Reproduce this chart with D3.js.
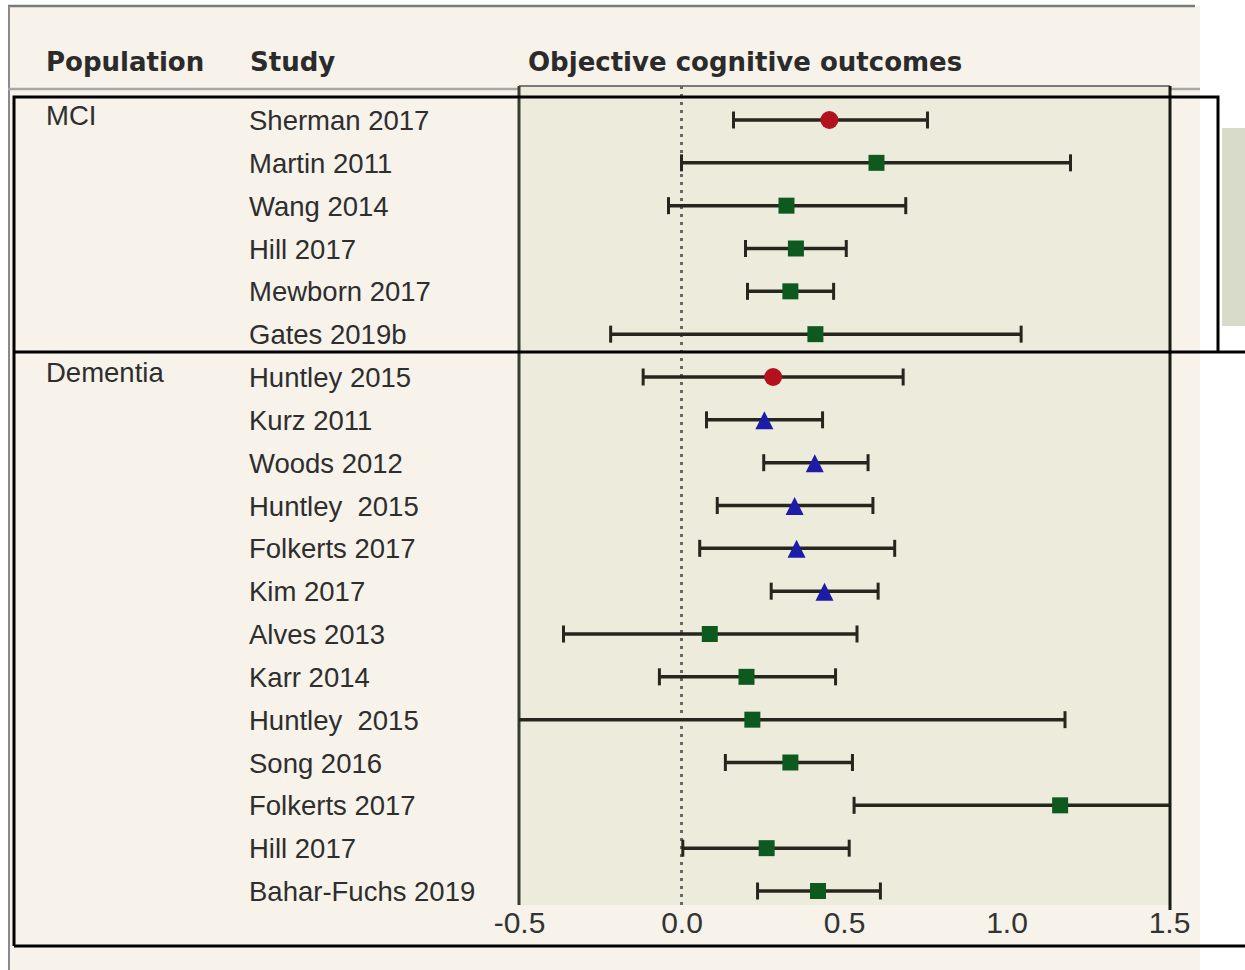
<!DOCTYPE html>
<html>
<head>
<meta charset="utf-8">
<script src="https://cdn.jsdelivr.net/npm/d3@7"></script>
<style>
  body { margin: 0; background: #ffffff; }
  svg { display: block; }
</style>
</head>
<body>
<svg id="chart" width="1245" height="970"></svg>
<script>
// Forest plot data
var populations = ["MCI", "Dementia"];
var populationOf = ["MCI", "MCI", "MCI", "MCI", "MCI", "MCI",
    "Dementia", "Dementia", "Dementia", "Dementia", "Dementia", "Dementia", "Dementia",
    "Dementia", "Dementia", "Dementia", "Dementia", "Dementia", "Dementia"];
var studies = ["Sherman 2017", "Martin 2011", "Wang 2014", "Hill 2017", "Mewborn 2017", "Gates 2019b",
    "Huntley 2015", "Kurz 2011", "Woods 2012", "Huntley  2015", "Folkerts 2017", "Kim 2017",
    "Alves 2013", "Karr 2014", "Huntley  2015", "Song 2016", "Folkerts 2017", "Hill 2017", "Bahar-Fuchs 2019"];
var effect = [0.455, 0.60, 0.323, 0.352, 0.335, 0.412,
    0.282, 0.255, 0.41, 0.348, 0.354, 0.44,
    0.087, 0.20, 0.218, 0.335, 1.165, 0.262, 0.42];
var lower = [0.16, 0.0, -0.04, 0.197, 0.203, -0.218,
    -0.118, 0.077, 0.253, 0.11, 0.056, 0.276,
    -0.363, -0.068, -0.55, 0.135, 0.531, 0.004, 0.234];
var upper = [0.757, 1.197, 0.69, 0.507, 0.468, 1.045,
    0.682, 0.434, 0.574, 0.589, 0.656, 0.605,
    0.54, 0.474, 1.18, 0.526, 1.55, 0.516, 0.612];
// marker type for each study
var markers = ["circle", "square", "square", "square", "square", "square",
    "circle", "triangle", "triangle", "triangle", "triangle", "triangle",
    "square", "square", "square", "square", "square", "square", "square"];
var xTicks = [-0.5, 0.0, 0.5, 1.0, 1.5];
var headers = ["Population", "Study", "Objective cognitive outcomes"];

var svg = d3.select("#chart");

var panelLeft = 519, panelRight = 1170, panelTop = 86, panelBottom = 905;

var xScale = d3.scaleLinear()
    .domain([xTicks[0], xTicks[xTicks.length - 1]])
    .range([panelLeft, panelRight - 1]);

var yScale = d3.scalePoint()
    .domain(d3.range(studies.length))
    .range([120, 891]);

var markerColor = { circle: "#b3121c", square: "#0e5a1e", triangle: "#1c1ca8" };

// page background (screenshot-like frame)
svg.append("rect")
    .attr("x", 8).attr("y", 6).attr("width", 1192).attr("height", 964)
    .attr("fill", "#f7f3ea");
svg.append("line")
    .attr("x1", 8).attr("x2", 1195).attr("y1", 6).attr("y2", 6)
    .attr("stroke", "#7a7a7a").attr("stroke-width", 2.5);
svg.append("line")
    .attr("x1", 9).attr("x2", 9).attr("y1", 6).attr("y2", 970)
    .attr("stroke", "#8a8a8a").attr("stroke-width", 2);
svg.append("line")
    .attr("x1", 8).attr("x2", 1200).attr("y1", 89).attr("y2", 89)
    .attr("stroke", "#a8a8a4").attr("stroke-width", 2.5);

// plot panel
svg.append("rect")
    .attr("x", panelLeft).attr("y", panelTop)
    .attr("width", panelRight - panelLeft).attr("height", panelBottom - panelTop)
    .attr("fill", "#edebdc");
svg.append("line")
    .attr("x1", panelLeft).attr("x2", panelRight).attr("y1", panelTop).attr("y2", panelTop)
    .attr("stroke", "#555").attr("stroke-width", 1.5);
svg.append("line")
    .attr("x1", panelLeft).attr("x2", panelLeft).attr("y1", panelTop).attr("y2", panelBottom)
    .attr("stroke", "#3a3a34").attr("stroke-width", 3);
svg.append("line")
    .attr("x1", panelRight).attr("x2", panelRight).attr("y1", panelTop).attr("y2", panelBottom + 5)
    .attr("stroke", "#1a1a14").attr("stroke-width", 3);

// gray box on the right edge
svg.append("rect")
    .attr("x", 1222).attr("y", 128).attr("width", 30).attr("height", 198)
    .attr("fill", "#d8dbca");

// headers
svg.selectAll(".header")
    .data(headers)
    .enter().append("text")
    .attr("class", "header")
    .attr("x", function (d, i) { return [46, 250, 528][i]; })
    .attr("y", 71)
    .attr("font-family", "'DejaVu Sans', Verdana, sans-serif")
    .attr("font-weight", "bold")
    .attr("font-size", 26)
    .attr("fill", "#2b2b2b")
    .text(function (d) { return d; });

// zero reference line
svg.append("line")
    .attr("x1", xScale(0)).attr("x2", xScale(0))
    .attr("y1", panelTop).attr("y2", panelBottom)
    .attr("stroke", "#666").attr("stroke-width", 3)
    .attr("stroke-dasharray", "3,5");

// population labels, at the first study of each group
svg.selectAll(".pop")
    .data(populations)
    .enter().append("text")
    .attr("class", "pop")
    .attr("x", 46)
    .attr("y", function (d) { return yScale(populationOf.indexOf(d)) + 5; })
    .attr("font-family", "'Liberation Sans', Arial, sans-serif")
    .attr("font-size", 27.5)
    .attr("fill", "#2e2e2e")
    .text(function (d) { return d; });

// study labels
svg.selectAll(".study")
    .data(studies)
    .enter().append("text")
    .attr("class", "study")
    .attr("x", 249)
    .attr("y", function (d, i) { return yScale(i) + 10; })
    .attr("font-family", "'Liberation Sans', Arial, sans-serif")
    .attr("font-size", 27.5)
    .attr("fill", "#2e2e2e")
    .attr("xml:space", "preserve")
    .text(function (d) { return d; });

var rows = d3.range(studies.length);
var minX = xScale.domain()[0], maxX = xScale.domain()[1];

// confidence interval lines (clipped to the panel)
var bars = svg.append("g");
bars.selectAll(".ci")
    .data(rows)
    .enter().append("line")
    .attr("x1", function (i) { return xScale(Math.max(lower[i], minX)); })
    .attr("x2", function (i) { return xScale(Math.min(upper[i], maxX)); })
    .attr("y1", function (i) { return yScale(i); })
    .attr("y2", function (i) { return yScale(i); })
    .attr("stroke", "#26261e").attr("stroke-width", 3.5);

// caps at the interval ends that fall inside the axis range
var caps = [];
rows.forEach(function (i) {
    if (lower[i] >= minX) caps.push({ v: lower[i], row: i });
    if (upper[i] <= maxX) caps.push({ v: upper[i], row: i });
});
bars.selectAll(".cap")
    .data(caps)
    .enter().append("line")
    .attr("x1", function (d) { return xScale(d.v); })
    .attr("x2", function (d) { return xScale(d.v); })
    .attr("y1", function (d) { return yScale(d.row) - 8.5; })
    .attr("y2", function (d) { return yScale(d.row) + 8.5; })
    .attr("stroke", "#26261e").attr("stroke-width", 3);

// point estimates
var shapes = {
    circle: "M9,0A9,9 0 1,1 -9,0A9,9 0 1,1 9,0Z",
    square: "M-8,-8H8V8H-8Z",
    triangle: "M0,-9.5L9,8.5H-9Z"
};
svg.append("g").selectAll(".pt")
    .data(rows)
    .enter().append("path")
    .attr("d", function (i) { return shapes[markers[i]]; })
    .attr("transform", function (i) {
        var dy = markers[i] === "triangle" ? 1 : 0;
        return "translate(" + xScale(effect[i]) + "," + (yScale(i) + dy) + ")";
    })
    .attr("fill", function (i) { return markerColor[markers[i]]; });

// x axis labels
var xAxis = d3.axisBottom(xScale)
    .tickValues(xTicks)
    .tickSize(0)
    .tickFormat(function (d) { return d.toFixed(1); });
var xg = svg.append("g")
    .attr("transform", "translate(0," + (panelBottom - 2) + ")")
    .call(xAxis);
xg.select(".domain").remove();
xg.selectAll("text")
    .attr("font-family", "'Liberation Sans', Arial, sans-serif")
    .attr("font-size", 30)
    .attr("fill", "#333")
    .attr("dy", "0.9em");

// black outline boxes around the groups
var frame = svg.append("g").attr("stroke", "#000").attr("stroke-width", 3).attr("fill", "none");
frame.append("path").attr("d", "M14,946V97H1218V352");
frame.append("line").attr("x1", 14).attr("x2", 1245).attr("y1", 352).attr("y2", 352);
frame.append("line").attr("x1", 14).attr("x2", 1245).attr("y1", 946).attr("y2", 946);
</script>
</body>
</html>
